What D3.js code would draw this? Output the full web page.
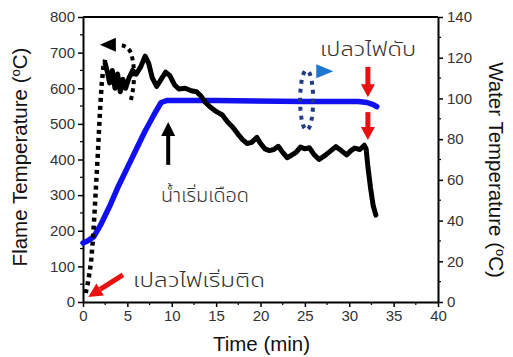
<!DOCTYPE html>
<html><head><meta charset="utf-8">
<script src="https://cdn.jsdelivr.net/npm/d3@7/dist/d3.min.js"></script>
<style>
body{margin:0;background:#fff;}
svg{display:block;}
.thai{font-family:"Noto Sans Thai","Noto Sans Thai Looped","Loma","Garuda","Tlwg Typo","Sarabun",sans-serif;font-weight:300;}
</style></head><body>
<svg id="c" width="513" height="357"></svg>
<script>
// ---- data ----
const timeTicks = [0,5,10,15,20,25,30,35,40];
const flameTicks = [0,100,200,300,400,500,600,700,800];
const waterTicks = [0,20,40,60,80,100,120,140];

// Flame temperature, ignition phase (dotted) [time min, °C]
const flameIgnitionT = [0.3,0.6,0.9,1.1,1.3,1.5,1.7,1.9,2.1,2.3,2.5];
const flameIgnitionV = [25,60,110,170,250,340,430,530,610,660,680];

// Flame temperature, main record (solid)
const flameTime = [2.5,2.8,3.0,3.3,3.6,3.9,4.2,4.5,4.8,5.2,5.6,6.0,6.5,7.0,7.4,7.8,8.3,8.8,9.3,9.8,10.3,10.8,11.5,12.2,12.8,13.3,13.8,14.3,15.0,15.7,16.3,16.9,17.5,18.0,18.5,19.0,19.6,20.0,20.5,21.0,21.5,22.0,22.5,23.0,23.5,24.0,24.5,25.0,25.5,26.0,26.6,27.2,27.8,28.5,29.1,29.7,30.2,30.6,31.2,31.7,31.9,32.1,32.4,32.7,33.0];
const flameTemp = [670,640,615,650,600,640,590,625,600,630,650,640,660,690,670,630,605,625,645,635,610,598,600,593,590,578,560,548,535,525,505,490,470,455,445,448,462,445,430,425,428,437,420,405,412,420,435,430,433,415,400,410,422,436,425,413,425,432,428,440,430,380,320,270,244];

// Water temperature (right axis)
const waterTime = [0,0.5,1.2,2,3,4,5,6,7,8,8.8,9.5,15,25,31,32,32.7,33.1];
const waterTemp = [29,30,32,38,47,57,66,75,84,92,98,99,99,98.5,98.5,98,97,96];

// annotations
const labelBoil = "น้ำเริ่มเดือด";
const labelIgnite = "เปลวไฟเริ่มติด";
const labelOut = "เปลวไฟดับ";

// ---- chart ----
const svg = d3.select("#c");
const L=83,R=438,T=17,B=302;
const x = d3.scaleLinear().domain([0,40]).range([L,R]);
const yL = d3.scaleLinear().domain([0,800]).range([B,T]);
const yR = d3.scaleLinear().domain([0,140]).range([B,T]);

const tickFont = "Liberation Sans, Arial, sans-serif";

function styleAxis(g){
  g.selectAll(".domain").attr("stroke","#000").attr("stroke-width",2);
  g.selectAll(".tick line").attr("stroke","#000").attr("stroke-width",1.5);
  g.selectAll(".tick text").attr("fill","#333").style("font-family",tickFont).style("font-size","15px");
}
function minor(g, vals, scale, orient){
  vals.forEach(v=>{
    const p = scale(v);
    const ln = g.append("line").attr("stroke","#000").attr("stroke-width",1.2);
    if(orient==="left") ln.attr("x1",L).attr("x2",L-3).attr("y1",p).attr("y2",p);
    if(orient==="right") ln.attr("x1",R).attr("x2",R+3).attr("y1",p).attr("y2",p);
    if(orient==="bottom") ln.attr("x1",p).attr("x2",p).attr("y1",B).attr("y2",B+3);
  });
}

svg.append("line").attr("x1",L).attr("x2",R).attr("y1",T).attr("y2",T).attr("stroke","#000").attr("stroke-width",2);

const gl = svg.append("g").attr("transform",`translate(${L},0)`)
  .call(d3.axisLeft(yL).tickValues(flameTicks).tickSize(5).tickSizeOuter(0).tickPadding(3));
styleAxis(gl);
const gr = svg.append("g").attr("transform",`translate(${R},0)`)
  .call(d3.axisRight(yR).tickValues(waterTicks).tickSize(5).tickSizeOuter(0).tickPadding(4));
styleAxis(gr);
const gb = svg.append("g").attr("transform",`translate(0,${B})`)
  .call(d3.axisBottom(x).tickValues(timeTicks).tickSize(5).tickSizeOuter(0).tickPadding(3));
styleAxis(gb);
const gm = svg.append("g");
minor(gm, d3.range(50,800,100), yL, "left");
minor(gm, d3.range(10,140,20), yR, "right");
minor(gm, d3.range(2.5,40,5), x, "bottom");

// axis titles
const titleFont = "Liberation Sans, Arial, sans-serif";
const lt = svg.append("text").attr("transform",`translate(27,157) rotate(-90)`)
  .attr("text-anchor","middle").style("font-family",titleFont).style("font-size","20.5px").attr("fill","#111");
lt.append("tspan").text("Flame Temperature (");
lt.append("tspan").attr("baseline-shift","super").style("font-size","13px").text("o");
lt.append("tspan").text("C)");
const rt = svg.append("text").attr("transform",`translate(489,170) rotate(90)`)
  .attr("text-anchor","middle").style("font-family",titleFont).style("font-size","20.5px").attr("fill","#111");
rt.append("tspan").text("Water Temperature (");
rt.append("tspan").attr("baseline-shift","super").style("font-size","13px").text("o");
rt.append("tspan").text("C)");
svg.append("text").attr("x",(L+R)/2+1).attr("y",351).attr("text-anchor","middle")
  .style("font-family",titleFont).style("font-size","20.5px").attr("fill","#111").text("Time (min)");

// water line
const waterLine = d3.line().x((d,i)=>x(waterTime[i])).y(d=>yR(d));
svg.append("path").datum(waterTemp).attr("d",waterLine).attr("fill","none")
  .attr("stroke","#1010f0").attr("stroke-width",5.5).attr("stroke-linejoin","round").attr("stroke-linecap","round");

// flame ignition (dotted)
const ignLine = d3.line().x((d,i)=>x(flameIgnitionT[i])).y(d=>yL(d));
svg.append("path").datum(flameIgnitionV).attr("d",ignLine).attr("fill","none")
  .attr("stroke","#000").attr("stroke-width",4.5).attr("stroke-dasharray","4,4");

// flame main
const flameLine = d3.line().x((d,i)=>x(flameTime[i])).y(d=>yL(d));
svg.append("path").datum(flameTemp).attr("d",flameLine).attr("fill","none")
  .attr("stroke","#000").attr("stroke-width",5).attr("stroke-linejoin","round").attr("stroke-linecap","round");

// ---- annotations ----
const p = (t,v)=>[x(t),yL(v)];
const bd = d3.path();
let a=p(5.4,567), b=p(6.1,640), c=p(5.4,700), d=p(4.1,722);
bd.moveTo(...a); bd.quadraticCurveTo(...b, ...c); bd.quadraticCurveTo(x(5.0),yL(720),...d);
svg.append("path").attr("d",bd.toString()).attr("fill","none").attr("stroke","#000")
  .attr("stroke-width",4).attr("stroke-dasharray","4,4");
let tip=p(1.9,722);
svg.append("path").attr("d",`M${tip[0]},${tip[1]}L${tip[0]+16},${tip[1]-7}L${tip[0]+16},${tip[1]+7}Z`).attr("fill","#000");

// black up arrow (boiling)
let ua=p(9.6,385), ut=p(9.6,505);
svg.append("line").attr("x1",ua[0]).attr("x2",ut[0]).attr("y1",ua[1]).attr("y2",ut[1]+10).attr("stroke","#000").attr("stroke-width",4);
svg.append("path").attr("d",`M${ut[0]},${ut[1]}L${ut[0]-7},${ut[1]+14}L${ut[0]+7},${ut[1]+14}Z`).attr("fill","#000");

// red down arrows (flame out)
function downArrow(t,vTop,vTip){
  const s=p(t,vTop), e=p(t,vTip);
  svg.append("line").attr("x1",s[0]).attr("x2",e[0]).attr("y1",s[1]).attr("y2",e[1]-10).attr("stroke","#e81010").attr("stroke-width",5);
  svg.append("path").attr("d",`M${e[0]},${e[1]}L${e[0]-7},${e[1]-13}L${e[0]+7},${e[1]-13}Z`).attr("fill","#e81010");
}
downArrow(32.1,660,575);
downArrow(32.1,533,455);

// red diagonal arrow (ignition)
{
  const s=p(4.5,76), e=p(0.6,14);
  const ang=Math.atan2(e[1]-s[1],e[0]-s[0]);
  const hb=[e[0]-14*Math.cos(ang),e[1]-14*Math.sin(ang)];
  svg.append("line").attr("x1",s[0]).attr("y1",s[1]).attr("x2",hb[0]).attr("y2",hb[1]).attr("stroke","#e81010").attr("stroke-width",5);
  const nx=-Math.sin(ang)*7, ny=Math.cos(ang)*7;
  svg.append("path").attr("d",`M${e[0]},${e[1]}L${hb[0]+nx},${hb[1]+ny}L${hb[0]-nx},${hb[1]-ny}Z`).attr("fill","#e81010");
}

// blue dotted ellipse arrow
{
  const cc=p(25.2,567);
  const pts=[];
  for(let k=0;k<=60;k++){const th=-Math.PI/2 - 0.3 - k/60*(2*Math.PI-0.6); pts.push([cc[0]+6.5*Math.cos(th), cc[1]+30*Math.sin(th)]);}
  svg.append("path").attr("d",d3.line()(pts)).attr("fill","none").attr("stroke","#1f3a80")
    .attr("stroke-width",4).attr("stroke-dasharray","4,5");
  const at=p(28.2,648);
  svg.append("path").attr("d",`M${at[0]},${at[1]}L${at[0]-17},${at[1]-7}L${at[0]-17},${at[1]+7}Z`).attr("fill","#1e78d0");
}

// Thai labels
svg.append("text").attr("class","thai").attr("x",320).attr("y",56).style("font-size","19px").attr("fill","#333")
  .attr("textLength",96).attr("lengthAdjust","spacingAndGlyphs").text(labelOut);
svg.append("text").attr("class","thai").attr("x",161).attr("y",202).style("font-size","19px").attr("fill","#333")
  .attr("textLength",88).attr("lengthAdjust","spacingAndGlyphs").text(labelBoil);
svg.append("text").attr("class","thai").attr("x",133).attr("y",287).style("font-size","19px").attr("fill","#333")
  .attr("textLength",132).attr("lengthAdjust","spacingAndGlyphs").text(labelIgnite);
</script>
</body></html>
